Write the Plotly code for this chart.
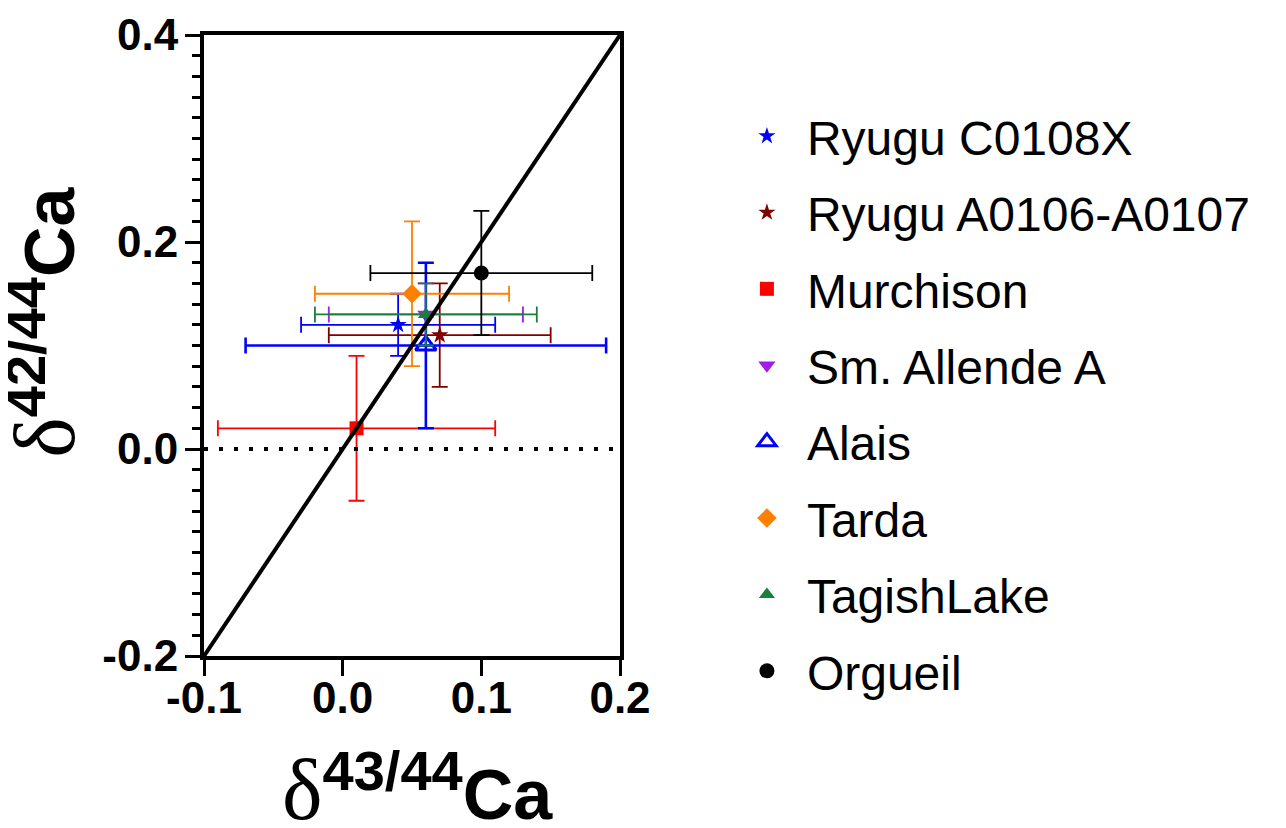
import plotly.graph_objects as go

# ---- data ----
names = ["Ryugu C0108X", "Ryugu A0106-A0107", "Murchison", "Sm. Allende A",
         "Alais", "Tarda", "TagishLake", "Orgueil"]
d43 = [0.04, 0.07, 0.01, 0.06, 0.06, 0.05, 0.06, 0.10]
d43_err = [0.07, 0.08, 0.10, 0.07, 0.13, 0.07, 0.08, 0.08]
d42 = [0.12, 0.11, 0.02, 0.13, 0.10, 0.15, 0.13, 0.17]
d42_err = [0.03, 0.05, 0.07, 0.03, 0.08, 0.07, 0.03, 0.06]

colors = ["#0000FF", "#800000", "#FF0000", "#A01EE8", "#0000FF", "#FF8000", "#1A7F3C", "#000000"]
symbols = ["star", "star", "square", "triangle-down", "triangle-up-open", "diamond", "triangle-up", "circle"]
sizes = [13, 13, 14, 15, 18, 15, 14, 15]
err_widths = [1.8, 1.8, 1.8, 1.8, 2.6, 1.8, 1.8, 1.8]

line_x = [-0.1, 0.2]
line_y = [-0.2, 0.4]
zero_x = [-0.1, 0.2]
zero_y = [0.0, 0.0]

x_tickvals = [-0.1, 0.0, 0.1, 0.2]
x_ticktext = ["-0.1", "0.0", "0.1", "0.2"]
y_tickvals = [-0.2, 0.0, 0.2, 0.4]
y_ticktext = ["-0.2", "0.0", "0.2", "0.4"]

fig = go.Figure()

for i, n in enumerate(names):
    fig.add_trace(go.Scatter(
        x=[d43[i]], y=[d42[i]], mode="markers", name=n,
        legendgroup=n,
        marker=dict(symbol=symbols[i], color=colors[i], size=sizes[i],
                    line=dict(width=3 if "open" in symbols[i] else 0, color=colors[i])),
        error_x=dict(type="data", array=[d43_err[i]], color=colors[i],
                     thickness=err_widths[i], width=8),
        error_y=dict(type="data", array=[d42_err[i]], color=colors[i],
                     thickness=err_widths[i], width=8),
    ))

fig.add_trace(go.Scatter(x=zero_x, y=zero_y, mode="lines", showlegend=False,
                         line=dict(color="black", width=4, dash="4px,11px")))
fig.add_trace(go.Scatter(x=line_x, y=line_y, mode="lines", showlegend=False,
                         line=dict(color="black", width=4)))

tickfont = dict(family="Liberation Sans", size=44, color="black", weight="bold")

fig.update_xaxes(range=[-0.1, 0.2], tickmode="array", tickvals=x_tickvals, ticktext=x_ticktext,
                 showgrid=False, zeroline=False, showline=True, linecolor="black", linewidth=4,
                 mirror=True, ticks="outside", ticklen=16, tickwidth=3, tickcolor="black",
                 tickfont=tickfont, automargin=False, ticklabelstandoff=-16)
fig.update_yaxes(range=[-0.2, 0.4], tickmode="array", tickvals=y_tickvals, ticktext=y_ticktext,
                 showgrid=False, zeroline=False, showline=True, linecolor="black", linewidth=4,
                 mirror=True, ticks="outside", ticklen=15, tickwidth=3, tickcolor="black",
                 tickfont=tickfont, automargin=False, ticklabelstandoff=-2,
                 minor=dict(tickmode="linear", tick0=0, dtick=0.02, ticks="outside",
                            ticklen=8, tickwidth=3, tickcolor="black", showgrid=False))

title_x = ("<span style='font-family:Liberation Serif;font-weight:normal;font-size:86px'>δ</span>"
           "<sup><span style='font-size:56px'>43/44</span></sup>Ca")
title_y = ("<span style='font-family:Liberation Serif;font-weight:normal;font-size:86px'>δ</span>"
           "<sup><span style='font-size:56px'>42/44</span></sup>Ca")
title_font = dict(family="Liberation Sans", size=70, color="black", weight="bold")

fig.add_annotation(text=title_x, xref="paper", yref="paper", x=0.514, y=-0.214,
                   xanchor="center", yanchor="middle", showarrow=False, font=title_font)
fig.add_annotation(text=title_y, xref="paper", yref="paper", x=-0.385, y=0.538,
                   xanchor="center", yanchor="middle", showarrow=False, font=title_font,
                   textangle=-90)

fig.update_layout(
    width=1278, height=820,
    margin=dict(l=196, r=666, t=27, b=172),
    plot_bgcolor="white", paper_bgcolor="white",
    legend=dict(x=1.257, y=0.898, xanchor="left", yanchor="top",
                font=dict(family="Liberation Sans", size=48, color="black"),
                tracegroupgap=11, itemwidth=70, bgcolor="rgba(0,0,0,0)"),
)

fig.write_html("out.html")
